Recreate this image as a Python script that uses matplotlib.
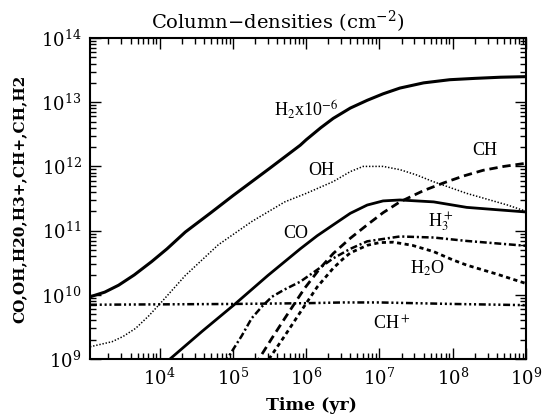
import numpy as np
import matplotlib
matplotlib.use("Agg")
import matplotlib.pyplot as plt

# values (time in yr, column density in cm^-2)
h2_t = [1.12e3, 1.78e3, 2.75e3, 4.5e3, 7.8e3, 1.26e4, 2.24e4, 5.0e4, 1.0e5, 3.16e5, 8.3e5,
        1.0e6, 1.58e6, 2.34e6, 4.0e6, 6.8e6, 1.12e7, 1.9e7, 4.0e7, 9.1e7, 2.0e8, 4.5e8, 1.0e9]
h2_n = [9.3e9, 1.1e10, 1.41e10, 2.04e10, 3.3e10, 5.2e10, 9.5e10, 1.9e11, 3.5e11, 9.3e11, 2.14e12,
        2.6e12, 4.0e12, 5.6e12, 8.1e12, 1.07e13, 1.35e13, 1.66e13, 2.0e13, 2.24e13, 2.35e13, 2.45e13, 2.5e13]

oh_t = [1.12e3, 2.24e3, 3.16e3, 4.7e3, 7.1e3, 1.07e4, 2.24e4, 6.3e4, 1.8e5, 5.1e5, 1.0e6,
        2.34e6, 4.0e6, 6.0e6, 1.12e7, 1.9e7, 3.16e7, 5.4e7, 1.55e8, 2.9e8, 5.6e8, 1.0e9]
oh_n = [1.55e9, 1.86e9, 2.24e9, 3.0e9, 4.7e9, 7.8e9, 2.0e10, 6.0e10, 1.38e11, 2.8e11, 3.8e11,
        5.8e11, 8.3e11, 1.0e12, 1.0e12, 8.9e11, 7.4e11, 5.8e11, 3.8e11, 3.1e11, 2.5e11, 2.0e11]

co_t = [1.2e4, 3.8e4, 1.07e5, 3.0e5, 8.3e5, 1.41e6, 2.34e6, 4.0e6, 6.8e6, 1.12e7, 1.9e7, 5.5e7, 1.55e8, 1.0e9]
co_n = [8.7e8, 2.7e9, 7.2e9, 2.0e10, 5.2e10, 8.3e10, 1.23e11, 1.86e11, 2.5e11, 2.9e11, 3.0e11, 2.8e11, 2.3e11, 1.95e11]

ch_t = [2.0e5, 3.4e5, 5.1e5, 9.5e5, 1.55e6, 2.34e6, 4.0e6, 6.8e6, 1.12e7, 1.9e7, 4.0e7, 7.4e7, 1.41e8, 2.6e8, 5.0e8, 1.0e9]
ch_n = [8.0e8, 2.1e9, 4.3e9, 1.26e10, 2.6e10, 4.4e10, 7.6e10, 1.23e11, 1.9e11, 2.8e11, 4.2e11, 5.5e11, 7.1e11, 8.7e11, 1.0e12, 1.12e12]

h3p_t = [7.6e4, 1.32e5, 1.8e5, 2.5e5, 3.4e5, 5.0e5, 8.3e5, 1.41e6, 2.34e6, 4.0e6, 6.8e6, 1.9e7, 5.5e7, 1.55e8, 1.0e9]
h3p_n = [8.5e8, 2.3e9, 4.3e9, 6.6e9, 9.3e9, 1.2e10, 1.6e10, 2.45e10, 3.7e10, 5.2e10, 6.8e10, 8.1e10, 7.8e10, 6.9e10, 5.8e10]

h2o_t = [2.7e5, 5.1e5, 8.7e5, 1.41e6, 2.34e6, 3.16e6, 4.0e6, 6.8e6, 1.0e7, 1.55e7, 2.8e7,
         5.5e7, 1.0e8, 1.55e8, 4.0e8, 1.0e9]
h2o_n = [7.9e8, 2.3e9, 5.8e9, 1.32e10, 2.6e10, 3.6e10, 4.5e10, 5.9e10, 6.5e10, 6.6e10, 5.9e10,
         4.7e10, 3.5e10, 2.9e10, 2.1e10, 1.5e10]

chp_t = [1.12e3, 1.0e5, 1.0e6, 3.16e6, 1.0e7, 1.0e8, 1.0e9]
chp_n = [7.0e9, 7.2e9, 7.4e9, 7.6e9, 7.6e9, 7.2e9, 6.9e9]

labels = ["H$_2$x10$^{-6}$", "OH", "CH", "CO", "H$_3^+$", "H$_2$O", "CH$^+$"]
label_t = [1.0e6, 1.6e6, 2.7e8, 7.2e5, 6.8e7, 4.5e7, 1.45e7]
label_n = [7.6e12, 8.7e11, 1.8e12, 8.9e10, 1.35e11, 2.6e10, 3.5e9]

plt.rcParams['mathtext.fontset'] = 'dejavuserif'
plt.rcParams['font.family'] = 'DejaVu Serif'
plt.rcParams['lines.scale_dashes'] = False

fig = plt.figure(figsize=(5.42, 4.17), dpi=100)
ax = fig.add_axes([90/542, 1-359/417, 436/542, 321/417])

ax.plot(h2_t, h2_n, color='black', lw=2.2)
ax.plot(oh_t, oh_n, color='black', lw=1.1, dashes=(1, 1.3))
ax.plot(co_t, co_n, color='black', lw=2.0)
ax.plot(ch_t, ch_n, color='black', lw=2.0, dashes=(6, 3.5))
ax.plot(h3p_t, h3p_n, color='black', lw=1.8, dashes=(5, 2, 1.5, 2))
ax.plot(h2o_t, h2o_n, color='black', lw=2.0, dashes=(3, 2.5))
ax.plot(chp_t, chp_n, color='black', lw=1.8, dashes=(5, 2, 1.5, 2, 1.5, 2, 1.5, 2))

for lab, t, n in zip(labels, label_t, label_n):
    ax.text(t, n, lab, ha='center', va='center', fontsize=13,
            family='Liberation Serif', math_fontfamily='stix')

ax.set_xscale('log')
ax.set_yscale('log')
ax.set_xlim(1.12e3, 1e9)
ax.set_ylim(1e9, 1e14)

ax.tick_params(which='both', direction='in', top=True, right=True, width=1)
ax.tick_params(which='major', length=8, labelsize=13, pad=6)
ax.tick_params(which='minor', length=4)
for s in ax.spines.values():
    s.set_linewidth(1.5)

fig.text(278/542, 1-22/417, "Column\u2212densities (cm$^{-2}$)", ha='center', va='center', fontsize=14)
fig.text(311/542, 1-405/417, "Time (yr)", ha='center', va='center', fontsize=12.5, fontweight='bold')
fig.text(20/542, 1-199/417, "CO,OH,H20,H3+,CH+,CH,H2", ha='center', va='center',
         rotation=90, fontsize=11, fontweight='bold')

fig.savefig("out.png", dpi=100)
